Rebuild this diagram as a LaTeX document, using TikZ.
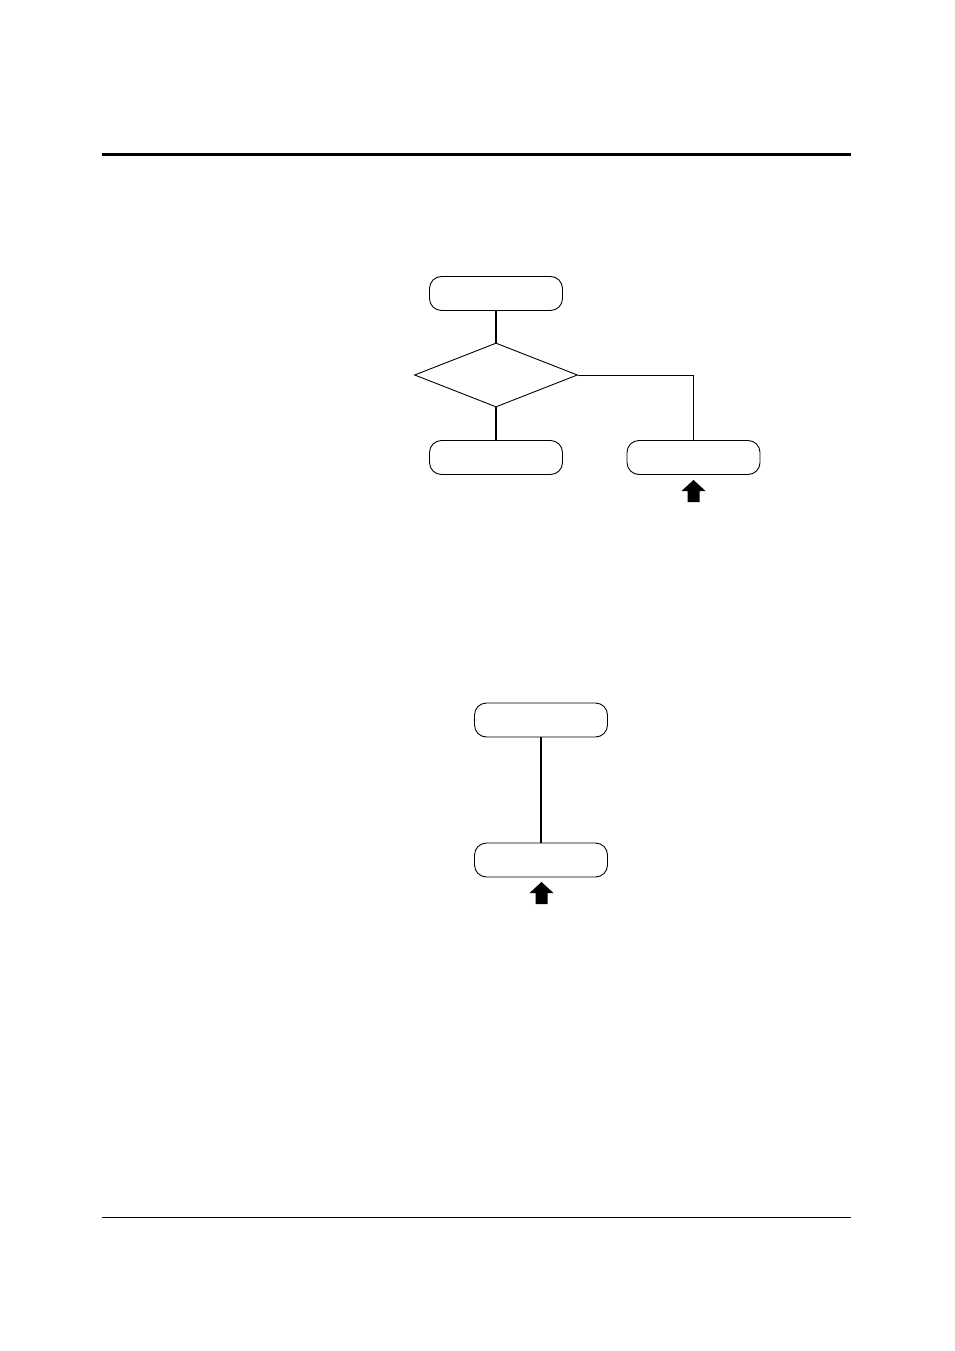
\documentclass[tikz,border=0pt]{standalone}
\usetikzlibrary{shapes.geometric}
\begin{document}
\begin{tikzpicture}[x=1pt,y=-1pt,
  termbox/.style={draw,line width=0.9pt,rounded corners=12pt,minimum width=133pt,minimum height=34pt,inner sep=0pt},
  decide/.style={draw,line width=0.9pt,diamond,aspect=2.55,minimum width=163pt,minimum height=64pt,inner sep=0pt},
  conn/.style={line width=1.3pt},
  blockarrow/.style={fill=black}]
\useasboundingbox (0,0) rectangle (954,1351);
\draw[line width=3pt] (102,155) coordinate (tl) -- (851,155) coordinate (tr);
\draw[line width=1pt] (102,1217) coordinate (bl) -- (851,1217) coordinate (br);
% top chart
\node[termbox] (a) at (496,293.5) {};
\node[decide] (d) at (496,375) {};
\node[termbox] (b) at (496,457.5) {};
\node[termbox] (c) at (693.5,457.5) {};
\draw[conn] (a.south) -- (d.north);
\draw[conn] (d.south) -- (b.north);
\draw[line width=1pt] (d.east) -| (c.north);
\fill[blockarrow] (693.5,480) -- (705.5,491) -- (699.5,491) -- (699.5,502) -- (687.5,502) -- (687.5,491) -- (681.5,491) -- cycle;
% bottom chart
\node[termbox] (e) at (541,720) {};
\node[termbox] (f) at (541,860) {};
\draw[conn] (e.south) -- (f.north);
\fill[blockarrow] (541.5,882) -- (553.5,893) -- (547.5,893) -- (547.5,904) -- (535.5,904) -- (535.5,893) -- (529.5,893) -- cycle;
\end{tikzpicture}
\end{document}
